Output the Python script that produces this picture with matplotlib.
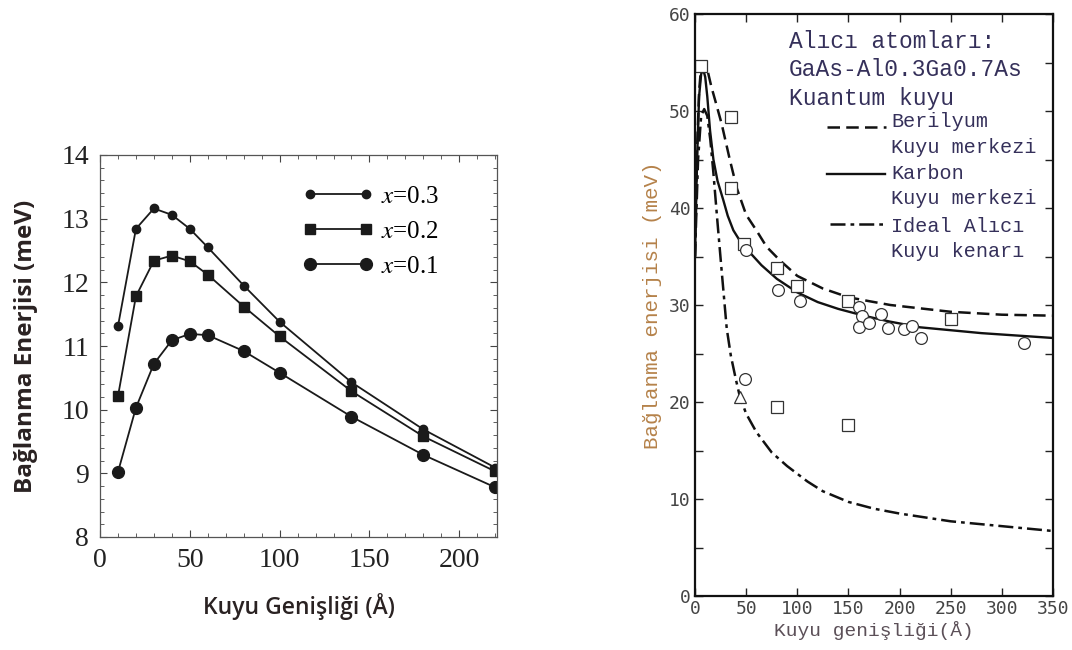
import matplotlib
matplotlib.use("Agg")
import matplotlib.pyplot as plt
from matplotlib.ticker import MultipleLocator

# ---------------- data: left panel ----------------
well_width_left = [10, 20, 30, 40, 50, 60, 80, 100, 140, 180, 220]
eb_x03 = [11.31, 12.84, 13.16, 13.06, 12.84, 12.55, 11.95, 11.38, 10.43, 9.69, 9.09]
eb_x02 = [10.21, 11.78, 12.34, 12.42, 12.33, 12.12, 11.62, 11.15, 10.29, 9.58, 9.03]
eb_x01 = [9.02, 10.03, 10.72, 11.09, 11.19, 11.17, 10.92, 10.58, 9.89, 9.29, 8.78]
left_labels = ["$x$=0.3", "$x$=0.2", "$x$=0.1"]
left_xticks = [0, 50, 100, 150, 200]
left_yticks = [8, 9, 10, 11, 12, 13, 14]

# ---------------- data: right panel ----------------
beril_x = [0, 2, 4, 6, 8, 12, 16, 20, 26, 34, 41, 50, 60, 70, 83, 100, 125, 150, 170, 191, 250, 300, 350]
beril_y = [35, 46, 52, 54.6, 55.0, 54.3, 52.5, 51.0, 48.7, 45.0, 42.0, 39.3, 37.7, 36.0, 34.6, 33.0, 31.7, 30.8, 30.4, 30.0, 29.3, 29.0, 28.9]
karbon_x = [0, 2, 4, 6, 8, 10, 12, 14.7, 18, 22, 27.7, 32, 37.5, 44, 52, 65, 80, 100, 120, 140, 165, 190, 220, 280, 350]
karbon_y = [35, 45, 51.5, 53.8, 54.3, 53.5, 51.5, 48.0, 45.0, 42.8, 40.8, 39.2, 37.7, 36.6, 35.6, 34.1, 32.7, 31.3, 30.3, 29.6, 28.9, 28.3, 27.7, 27.1, 26.6]
ideal_x = [0, 3, 6, 9, 12, 15, 18, 22, 26, 31, 35, 40, 44, 50, 60, 75, 90, 100, 110, 125, 150, 175, 200, 250, 300, 350]
ideal_y = [35, 45, 49.5, 50.2, 49.5, 47.0, 43.6, 38.5, 33.6, 27.6, 24.8, 22.3, 20.5, 18.8, 16.9, 14.8, 13.4, 12.6, 11.8, 10.8, 9.7, 9.0, 8.5, 7.7, 7.2, 6.7]

sq_x = [6, 35, 35, 48, 80, 100, 150, 250, 80, 150]
sq_y = [54.6, 49.4, 42.1, 36.3, 33.8, 32.0, 30.4, 28.6, 19.5, 17.6]
circ_x = [50, 81, 103, 160, 163, 160, 170, 182, 189, 204, 212, 221, 322, 49]
circ_y = [35.7, 31.5, 30.4, 29.8, 28.9, 27.7, 28.1, 29.1, 27.6, 27.5, 27.8, 26.6, 26.1, 22.4]
tri_x = [44]
tri_y = [20.5]

right_xticks = [0, 50, 100, 150, 200, 250, 300, 350]
right_yticks = [0, 10, 20, 30, 40, 50, 60]
title_lines = ["Alıcı atomları:", "GaAs-Al0.3Ga0.7As", "Kuantum kuyu"]
legend_lines = ["Berilyum", "Kuyu merkezi", "Karbon", "Kuyu merkezi", "Ideal Alıcı", "Kuyu kenarı"]

plt.rcParams['mathtext.fontset'] = 'stix'

fig = plt.figure(figsize=(10.72, 6.5), dpi=100)
fig.patch.set_facecolor('white')

# =============== LEFT PANEL ===============
axL = fig.add_axes([100/1072, 1 - 537/650, 397/1072, 382/650])
lw = 1.3
lc = '#1a1a1a'
l3, = axL.plot(well_width_left, eb_x03, '-', color=lc, lw=lw, marker='o', ms=6, label=left_labels[0])
l2, = axL.plot(well_width_left, eb_x02, '-', color=lc, lw=lw, marker='s', ms=6.5, label=left_labels[1])
l1, = axL.plot(well_width_left, eb_x01, '-', color=lc, lw=lw, marker='o', ms=8.5, label=left_labels[2])
axL.set_xlim(0, 221)
axL.set_ylim(8, 14)
axL.set_xticks(left_xticks)
axL.set_yticks(left_yticks)
axL.xaxis.set_minor_locator(MultipleLocator(10))
axL.yaxis.set_minor_locator(MultipleLocator(0.2))
axL.tick_params(which='both', direction='in', top=True, right=True, colors='#444444')
axL.tick_params(which='major', length=5, width=0.8, labelsize=20, labelcolor='#222222', pad=8)
axL.tick_params(which='minor', length=3, width=0.6)
for lab in axL.get_xticklabels() + axL.get_yticklabels():
    lab.set_family('Liberation Serif')
for sp in axL.spines.values():
    sp.set_color('#555555')
    sp.set_linewidth(0.9)
axL.set_ylabel("Bağlanma Enerjisi (meV)", family='Open Sans', fontweight='bold',
               fontsize=17.5, color='#2a2222', labelpad=17)
axL.set_xlabel("Kuyu Genişliği (Å)", family='Open Sans', fontweight='semibold',
               fontsize=16.5, color='#2a2222', labelpad=14)
leg = axL.legend(handles=[l3, l2, l1], loc='upper left', bbox_to_anchor=(0.51, 0.92),
                 frameon=False, numpoints=2, handlelength=2.84, handletextpad=0.3,
                 labelspacing=0.49, borderpad=0, borderaxespad=0,
                 prop={'family': 'Liberation Serif', 'size': 18})

# =============== RIGHT PANEL ===============
axR = fig.add_axes([695/1072, 1 - 596/650, 358/1072, 582/650])
dash_style = (0, (5, 2.5))
dashdot_style = (0, (6, 2, 1.5, 2))
axR.plot(beril_x, beril_y, color='#111111', lw=1.8, linestyle=dash_style)
axR.plot(karbon_x, karbon_y, color='#111111', lw=1.7, linestyle='-')
axR.plot(ideal_x, ideal_y, color='#111111', lw=1.8, linestyle=dashdot_style)
axR.plot(sq_x, sq_y, linestyle='none', marker='s', ms=8, mfc='white', mec='#333333', mew=0.9)
axR.plot(circ_x, circ_y, linestyle='none', marker='o', ms=8.5, mfc='white', mec='#333333', mew=0.9)
axR.plot(tri_x, tri_y, linestyle='none', marker='^', ms=8.5, mfc='white', mec='#333333', mew=0.9)
axR.set_xlim(0, 350)
axR.set_ylim(0, 60)
axR.set_xticks(right_xticks)
axR.set_yticks(right_yticks)
axR.yaxis.set_minor_locator(MultipleLocator(5))
axR.tick_params(which='both', direction='in', top=True, right=True, colors='#222222')
axR.tick_params(which='major', length=6, width=1.0, labelsize=13, labelcolor='#444444', pad=3)
axR.tick_params(which='minor', length=6, width=1.0)
for lab in axR.get_xticklabels() + axR.get_yticklabels():
    lab.set_family('DejaVu Sans Mono')
for sp in axR.spines.values():
    sp.set_color('#111111')
    sp.set_linewidth(1.6)
axR.set_ylabel("Bağlanma enerjisi (meV)", family='Liberation Mono', fontsize=15,
               color='#b5824a', labelpad=5)
axR.set_xlabel("Kuyu genişliği(Å)", family='Liberation Mono', fontsize=14,
               color='#5c5058', labelpad=2)

txt_color = '#35305a'
title_y = [57.2, 54.3, 51.3]
for s, yv in zip(title_lines, title_y):
    axR.text(91.5, yv, s, family='Liberation Mono', fontsize=16.5, color=txt_color, va='center', ha='left')
leg_y = [48.9, 46.2, 43.6, 41.0, 38.1, 35.5]
for s, yv in zip(legend_lines, leg_y):
    axR.text(191.5, yv, s, family='Liberation Mono', fontsize=14.5, color=txt_color, va='center', ha='left')
axR.plot([129, 187], [48.4, 48.4], color='#111111', lw=1.8, linestyle=dash_style)
axR.plot([129, 186], [43.5, 43.5], color='#111111', lw=1.7, linestyle='-')
axR.plot([132, 185], [38.4, 38.4], color='#111111', lw=1.8, linestyle=dashdot_style)

fig.savefig("out.png", dpi=100, facecolor='white')
